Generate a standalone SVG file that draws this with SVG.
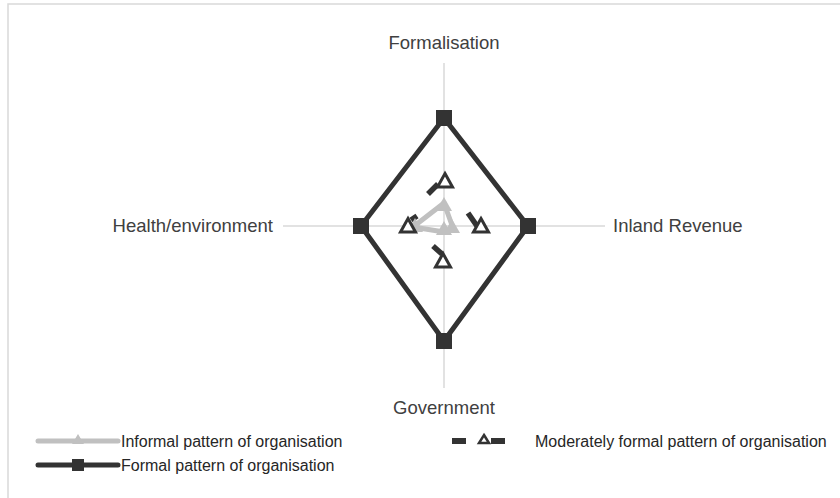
<svg xmlns="http://www.w3.org/2000/svg" width="840" height="498" viewBox="0 0 840 498">
<style>
.axis{stroke:#d9d9d9;stroke-width:1.5;fill:none}
.lbl{font-family:"Liberation Sans",Arial,sans-serif;font-size:18.5px;fill:#404040}
.leg{font-family:"Liberation Sans",Arial,sans-serif;font-size:16px;fill:#262626}
.formal{stroke:#333;stroke-width:5;fill:none;stroke-linejoin:miter}
.informal{stroke:#c0c0c0;stroke-width:5;fill:none;stroke-linejoin:round}
.sq{fill:#333}
.gtri{fill:#c0c0c0}
.mtri{fill:#fff;stroke:#333;stroke-width:3;stroke-linejoin:miter}
.wedge{stroke:#333;stroke-width:5.5;fill:none}
</style>
<defs>
<rect id="sqm" x="-8" y="-8" width="16" height="16" class="sq"/>
<polygon id="gt" points="0,-8 8,6 -8,6" class="gtri"/>
<polygon id="mt" points="0,-7.5 7.5,6 -7.5,6" class="mtri"/>
</defs>
<rect x="8" y="4" width="840" height="500" fill="#fff" stroke="#d9d9d9" stroke-width="1.5"/>
<g id="axes">
<line class="axis" x1="444" y1="63" x2="444" y2="388"/>
<line class="axis" x1="283" y1="226" x2="605" y2="226"/>
</g>
<g id="labels">
<text class="lbl" x="444" y="49" text-anchor="middle">Formalisation</text>
<text class="lbl" x="273" y="232" text-anchor="end">Health/environment</text>
<text class="lbl" x="613" y="232">Inland Revenue</text>
<text class="lbl" x="444" y="414" text-anchor="middle">Government</text>
</g>
<g id="connectors">
<polygon class="formal" points="444,118 528,226 444,341 361,226"/>
<polygon class="informal" points="444,203 453,228 444,232 413,227"/>
<line class="wedge" x1="428" y1="194" x2="438" y2="184"/>
<line class="wedge" x1="468" y1="213" x2="477" y2="226"/>
<line class="wedge" x1="433" y1="246" x2="442" y2="254"/>
<line class="wedge" x1="411" y1="220" x2="417" y2="216"/>
</g>
<g id="formal-series">
<use href="#sqm" x="444" y="118"/>
<use href="#sqm" x="528" y="226"/>
<use href="#sqm" x="444" y="341"/>
<use href="#sqm" x="361" y="226"/>
</g>
<g id="informal-series">
<use href="#gt" x="444" y="205"/>
<use href="#gt" x="452" y="227"/>
<use href="#gt" x="444" y="229"/>
<use href="#gt" x="415" y="226"/>
</g>
<g id="moderate-series">
<use href="#mt" x="445" y="181"/>
<use href="#mt" x="481" y="226"/>
<use href="#mt" x="443" y="261"/>
<use href="#mt" x="408" y="226"/>
</g>
<g id="legend-informal">
<line x1="38" y1="441" x2="118" y2="441" stroke="#c0c0c0" stroke-width="5" stroke-linecap="round"/>
<polygon points="78,434 84,444 72,444" class="gtri"/>
<text class="leg" x="121" y="447">Informal pattern of organisation</text>
</g>
<g id="legend-formal">
<line x1="38" y1="465" x2="118" y2="465" stroke="#333" stroke-width="5" stroke-linecap="round"/>
<rect x="72" y="459" width="12" height="12" class="sq"/>
<text class="leg" x="121" y="471">Formal pattern of organisation</text>
</g>
<g id="legend-moderate">
<rect x="452" y="438" width="14" height="6" class="sq"/>
<polygon points="484,435 489,443 479,443" fill="#fff" stroke="#333" stroke-width="2.5"/>
<rect x="491" y="438" width="14" height="6" class="sq"/>
<text class="leg" x="535" y="447">Moderately formal pattern of organisation</text>
</g>
</svg>
